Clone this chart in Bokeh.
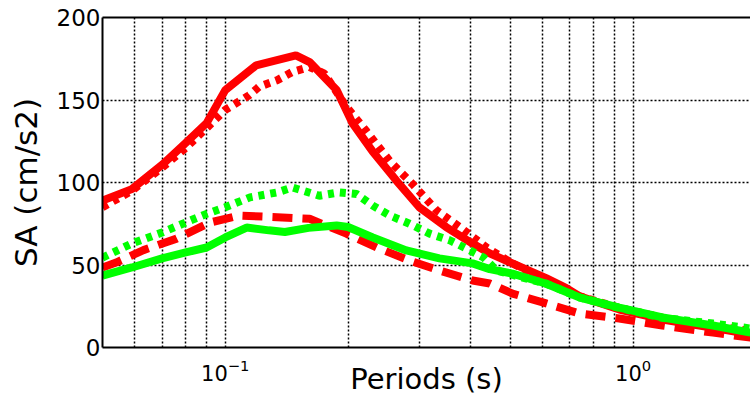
from bokeh.plotting import figure
from bokeh.models import FixedTicker, Range1d, LogAxis
from bokeh.embed import file_html
from bokeh.resources import INLINE

# ---- data ----
red_solid_T = [0.05, 0.059, 0.0702, 0.080, 0.090, 0.1, 0.119, 0.149, 0.161, 0.1875, 0.205, 0.2295,
               0.263, 0.299, 0.348, 0.404, 0.445, 0.506, 0.612, 0.686, 0.74, 0.925, 1.18, 1.57, 1.94]
red_solid_SA = [89, 96, 111, 124, 136, 156, 171, 177, 173, 156, 136, 119,
                101, 85, 73, 63, 57, 51, 42, 36, 31, 23, 17, 12, 8]

red_dot_T = [0.05, 0.059, 0.07, 0.08, 0.09, 0.1, 0.1146, 0.121, 0.134, 0.146, 0.161, 0.175, 0.185,
             0.198, 0.222, 0.253, 0.288, 0.33, 0.376, 0.437, 0.506, 0.61, 0.74, 0.925, 1.18, 1.57, 1.94]
red_dot_SA = [85, 95, 109, 121, 133, 144, 153, 158, 162, 167, 170, 166, 157,
              146, 131, 113, 99, 83, 73, 60.6, 51, 40.6, 31, 24, 18, 13, 10]

red_dash_T = [0.05, 0.054, 0.063, 0.076, 0.0916, 0.108, 0.134, 0.161, 0.198, 0.235, 0.283, 0.335,
              0.404, 0.445, 0.506, 0.612, 0.74, 0.925, 1.18, 1.57, 1.94]
red_dash_SA = [48.5, 51.5, 59, 66, 75.7, 80, 79, 78, 69, 60.6, 52.7, 46.7,
               40.6, 38.8, 32.7, 26.7, 20.6, 17.6, 13.3, 9, 6]

green_solid_T = [0.05, 0.059, 0.07, 0.08, 0.09, 0.1, 0.1128, 0.128, 0.14, 0.16, 0.1875, 0.2, 0.23,
                 0.278, 0.335, 0.404, 0.445, 0.506, 0.61, 0.74, 0.925, 1.18, 1.57, 1.94]
green_solid_SA = [43.6, 48.5, 54, 57.6, 60.6, 66.7, 72.7, 71, 70, 72.5, 74, 73, 66.7,
                  58.8, 54, 51, 47.5, 44.8, 38.8, 30.3, 24.2, 18.2, 13.3, 9]

green_dot_T = [0.05, 0.059, 0.07, 0.08, 0.09, 0.1, 0.115, 0.134, 0.146, 0.17, 0.19, 0.21, 0.23,
               0.253, 0.283, 0.317, 0.355, 0.397, 0.43, 0.463, 0.536, 0.61, 0.74, 0.925, 1.18, 1.57, 1.94]
green_dot_SA = [54.5, 63, 69.7, 75.8, 81, 85, 91, 94, 97, 92, 94, 93, 86,
                80, 75, 69, 65, 59, 54.5, 46.7, 42.4, 38.8, 30.3, 24, 18, 14.5, 11.5]

x_major = [0.1, 1.0]
x_minor = [0.06, 0.07, 0.08, 0.09, 0.2, 0.3, 0.4, 0.5, 0.6, 0.7, 0.8, 0.9]
y_ticks = [0, 50, 100, 150, 200]
x_label = "Periods (s)"
y_label = "SA (cm/s2)"

FONT = "DejaVu Sans"

p = figure(width=750, height=403, x_axis_type="log", output_backend="svg",
           toolbar_location=None,
           x_range=Range1d(0.05, 1.94), y_range=Range1d(0, 200),
           min_border_left=102, min_border_right=0, min_border_top=17, min_border_bottom=56)
p.background_fill_color = "white"
p.border_fill_color = "white"
p.outline_line_color = None

# axes
p.xaxis.ticker = FixedTicker(ticks=x_major, minor_ticks=x_minor)
p.yaxis.ticker = FixedTicker(ticks=y_ticks)
for ax in (p.xaxis, p.yaxis):
    ax.axis_line_color = "black"
    ax.axis_line_width = 2
    ax.major_tick_in = 0
    ax.major_tick_out = 0
    ax.minor_tick_in = 0
    ax.minor_tick_out = 0
    ax.major_label_text_font = FONT
    ax.major_label_text_color = "black"
    ax.axis_label_text_font = FONT
    ax.axis_label_text_font_style = "normal"
    ax.axis_label_text_color = "black"
p.yaxis.major_label_text_font_size = "23px"
p.xaxis.major_label_text_font_size = "21px"
p.yaxis.major_label_standoff = 2
p.xaxis.major_label_standoff = 11

p.xaxis.axis_label = x_label
p.xaxis.axis_label_text_font_size = "29px"
p.xaxis.axis_label_standoff = -22
p.yaxis.axis_label = y_label
p.yaxis.axis_label_text_font_size = "31px"
p.yaxis.axis_label_standoff = 10

# top border line (plot is cut off at the right edge)
top = LogAxis(ticker=FixedTicker(ticks=[]), axis_line_color="black", axis_line_width=2,
              major_tick_in=0, major_tick_out=0, minor_tick_in=0, minor_tick_out=0,
              major_label_text_font_size="0px")
p.add_layout(top, "above")

# grids
p.xgrid.grid_line_color = "black"
p.xgrid.grid_line_dash = "2 2"
p.xgrid.grid_line_width = 1.5
p.xgrid.minor_grid_line_color = "black"
p.xgrid.minor_grid_line_dash = "2 2"
p.xgrid.minor_grid_line_width = 1.5
p.ygrid.grid_line_color = "black"
p.ygrid.grid_line_dash = "2 2"
p.ygrid.grid_line_width = 1.5

RED = "#ff0000"
GREEN = "#00ff00"
p.line(red_solid_T, red_solid_SA, line_color=RED, line_width=8)
p.line(red_dot_T, red_dot_SA, line_color=RED, line_width=8, line_dash="6 6")
p.line(red_dash_T, red_dash_SA, line_color=RED, line_width=8, line_dash="20 10")
p.line(green_solid_T, green_solid_SA, line_color=GREEN, line_width=8)
p.line(green_dot_T, green_dot_SA, line_color=GREEN, line_width=8, line_dash="6 6")

open("out.html", "w").write(file_html(p, INLINE))
